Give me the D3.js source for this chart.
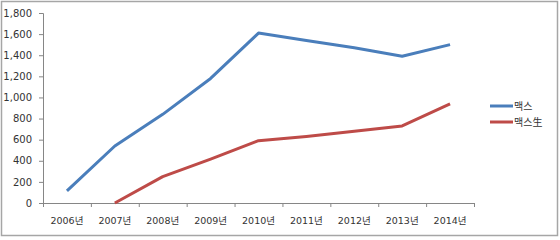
<!DOCTYPE html>
<html>
<head>
<meta charset="utf-8">
<script src="https://cdn.jsdelivr.net/npm/d3@7"></script>
<style>
  html, body { margin: 0; padding: 0; background: #fff; }
  svg { display: block; }
</style>
</head>
<body>
<div id="chart"></div>
<script>
const years = ["2006년", "2007년", "2008년", "2009년", "2010년", "2011년", "2012년", "2013년", "2014년"];
const maxValues = [115, 540, 840, 1180, 1610, 1540, 1470, 1390, 1500];
const maxFreshValues = [null, 0, 250, 415, 590, 630, 680, 730, 940];
const yTicks = [0, 200, 400, 600, 800, 1000, 1200, 1400, 1600, 1800];
const seriesNames = ["맥스", "맥스生"];
const seriesColors = ["#4a7ebb", "#be4b48"];

const W = 560, H = 240;
const margin = { top: 13, right: 86, bottom: 37, left: 43 };
const width = W - margin.left - margin.right;
const height = H - margin.top - margin.bottom;
const font = "'DejaVu Sans', 'Noto Sans CJK KR', sans-serif";

const svg = d3.select("#chart").append("svg")
    .attr("width", W)
    .attr("height", H);

// outer frame
svg.append("rect")
    .attr("x", 1.5).attr("y", 1.5)
    .attr("width", W - 4).attr("height", H - 6)
    .attr("fill", "#fff")
    .attr("stroke", "#a6a6a6")
    .attr("stroke-width", 1.5);

const g = svg.append("g")
    .attr("transform", `translate(${margin.left},${margin.top})`);

const x = d3.scaleBand().domain(years).range([0, width]).padding(0);
const y = d3.scaleLinear().domain([0, 1800]).range([height, 0]);

// y axis
const yAxis = g.append("g")
    .call(d3.axisLeft(y).tickValues(yTicks).tickFormat(d3.format(",")).tickSize(4).tickPadding(7));
yAxis.select(".domain").attr("stroke", "#868686");
yAxis.selectAll(".tick line").attr("stroke", "#868686");
yAxis.selectAll("text").attr("font-family", font).attr("font-size", 10).attr("fill", "#333");

// x axis (labels centred, ticks at category boundaries)
const xAxis = g.append("g")
    .attr("transform", `translate(0,${height})`)
    .call(d3.axisBottom(x).tickSize(0).tickPadding(14));
xAxis.select(".domain").attr("stroke", "#868686");
xAxis.selectAll("text").attr("font-family", font).attr("font-size", 9.5).attr("fill", "#333");
const bounds = years.map(d => x(d)).concat([x.range()[1]]);
xAxis.selectAll(".bound")
    .data(bounds)
    .enter().append("line")
    .attr("class", "bound")
    .attr("x1", d => d + 0.5).attr("x2", d => d + 0.5)
    .attr("y1", 0).attr("y2", 4)
    .attr("stroke", "#868686");

// lines
const line = d3.line()
    .defined(d => d.v != null)
    .x(d => x(d.year) + x.bandwidth() / 2)
    .y(d => y(d.v));

[maxValues, maxFreshValues].forEach((vals, i) => {
    g.append("path")
        .datum(years.map((year, j) => ({ year, v: vals[j] })))
        .attr("fill", "none")
        .attr("stroke", seriesColors[i])
        .attr("stroke-width", 3)
        .attr("stroke-linejoin", "round")
        .attr("d", line);
});

// legend
const legend = svg.append("g").attr("transform", "translate(490,106)");
seriesNames.forEach((name, i) => {
    const row = legend.append("g").attr("transform", `translate(0,${i * 16})`);
    row.append("line")
        .attr("x1", 0).attr("x2", 23)
        .attr("stroke", seriesColors[i])
        .attr("stroke-width", 3);
    row.append("text")
        .attr("x", 24).attr("y", 0)
        .attr("dy", "0.35em")
        .attr("font-family", font)
        .attr("font-size", 10)
        .attr("fill", "#333")
        .text(name);
});
</script>
</body>
</html>
